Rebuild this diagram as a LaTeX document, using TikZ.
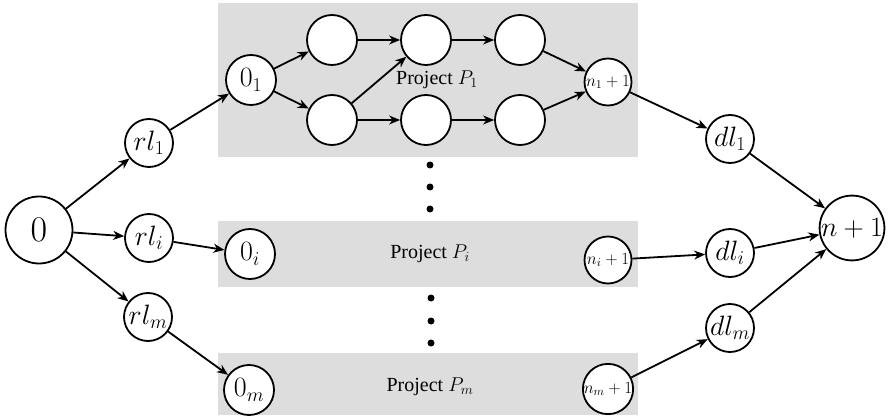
\RequirePackage{fix-cm}
\documentclass[tikz,border=0pt]{standalone}
\usepackage{fontspec}
\setmainfont{Liberation Serif}
\usetikzlibrary{arrows.meta}
\definecolor{boxgray}{RGB}{221,221,221}
\tikzset{
  vx/.style={circle,draw=black,line width=1.8pt,fill=white,inner sep=0pt,minimum size=#1},
  vx/.default=48pt,
  big/.style={font=\fontsize{36}{40}\selectfont},
  mid/.style={font=\fontsize{28}{30}\selectfont},
  sml/.style={font=\fontsize{17}{19}\selectfont},
  projbox/.style={fill=boxgray,draw=none},
  lbl/.style={font=\fontsize{20}{24}\selectfont},
  arr/.style={-{Stealth[length=11pt,width=9pt,inset=3.5pt]},line width=1.8pt},
  dotn/.style={circle,fill=black,inner sep=0pt,minimum size=7pt}
}
\begin{document}
\begin{tikzpicture}[x=1pt,y=-1pt]
\useasboundingbox (0,0) rectangle (890,419);
% project boxes
\fill[projbox] (218,3) rectangle (638,157);
\fill[projbox] (218,221) rectangle (638,287);
\fill[projbox] (218,353) rectangle (638,415);
\node[lbl] (p1) at (437,80) {Project $P_1$};
\node[lbl] (pi) at (430,254) {Project $P_i$};
\node[lbl] (pm) at (430,387) {Project $P_m$};
% nodes
\node[vx=67pt,big] (s) at (39,230) {$0$};
\node[vx,mid] (rl1) at (149,143) {$rl_1$};
\node[vx,mid] (rli) at (149,238) {$rl_i$};
\node[vx,mid] (rlm) at (148,317) {$rl_m$};
\node[vx=50pt,mid] (o1) at (251,80) {$0_1$};
\node[vx=50pt,mid] (oi) at (250,254) {$0_i$};
\node[vx=50pt,mid] (om) at (249,390) {$0_m$};
\node[vx=50pt] (a1) at (332,40) {};
\node[vx=50pt] (a2) at (426,40) {};
\node[vx=50pt] (a3) at (520,40) {};
\node[vx=50pt] (b1) at (332,120) {};
\node[vx=50pt] (b2) at (426,120) {};
\node[vx=50pt] (b3) at (520,120) {};
\node[vx=47pt,sml] (e1) at (608,82) {$n_1+1$};
\node[vx=47pt,sml] (ei) at (608,260) {$n_i+1$};
\node[vx=47pt,sml] (em) at (608,389) {$n_m+1$};
\node[vx,mid] (dl1) at (730,139) {$dl_1$};
\node[vx,mid] (dli) at (730,253) {$dl_i$};
\node[vx,mid] (dlm) at (730,328) {$dl_m$};
\node[vx=62pt,mid] (t) at (852,228) {$n+1$};
% dots
\node[dotn] (d1) at (430,165) {};
\node[dotn] (d2) at (430,187) {};
\node[dotn] (d3) at (430,209) {};
\node[dotn] (d4) at (431,298) {};
\node[dotn] (d5) at (431,321) {};
\node[dotn] (d6) at (431,343) {};
% arrows
\draw[arr] (s) -- (rl1);
\draw[arr] (s) -- (rli);
\draw[arr] (s) -- (rlm);
\draw[arr] (rl1) -- (o1);
\draw[arr] (rli) -- (oi);
\draw[arr] (rlm) -- (om);
\draw[arr] (o1) -- (a1);
\draw[arr] (o1) -- (b1);
\draw[arr] (a1) -- (a2);
\draw[arr] (a2) -- (a3);
\draw[arr] (a3) -- (e1);
\draw[arr] (b1) -- (a2);
\draw[arr] (b1) -- (b2);
\draw[arr] (b2) -- (b3);
\draw[arr] (b3) -- (e1);
\draw[arr] (e1) -- (dl1);
\draw[arr] (ei) -- (dli);
\draw[arr] (em) -- (dlm);
\draw[arr] (dl1) -- (t);
\draw[arr] (dli) -- (t);
\draw[arr] (dlm) -- (t);
\end{tikzpicture}
\end{document}
